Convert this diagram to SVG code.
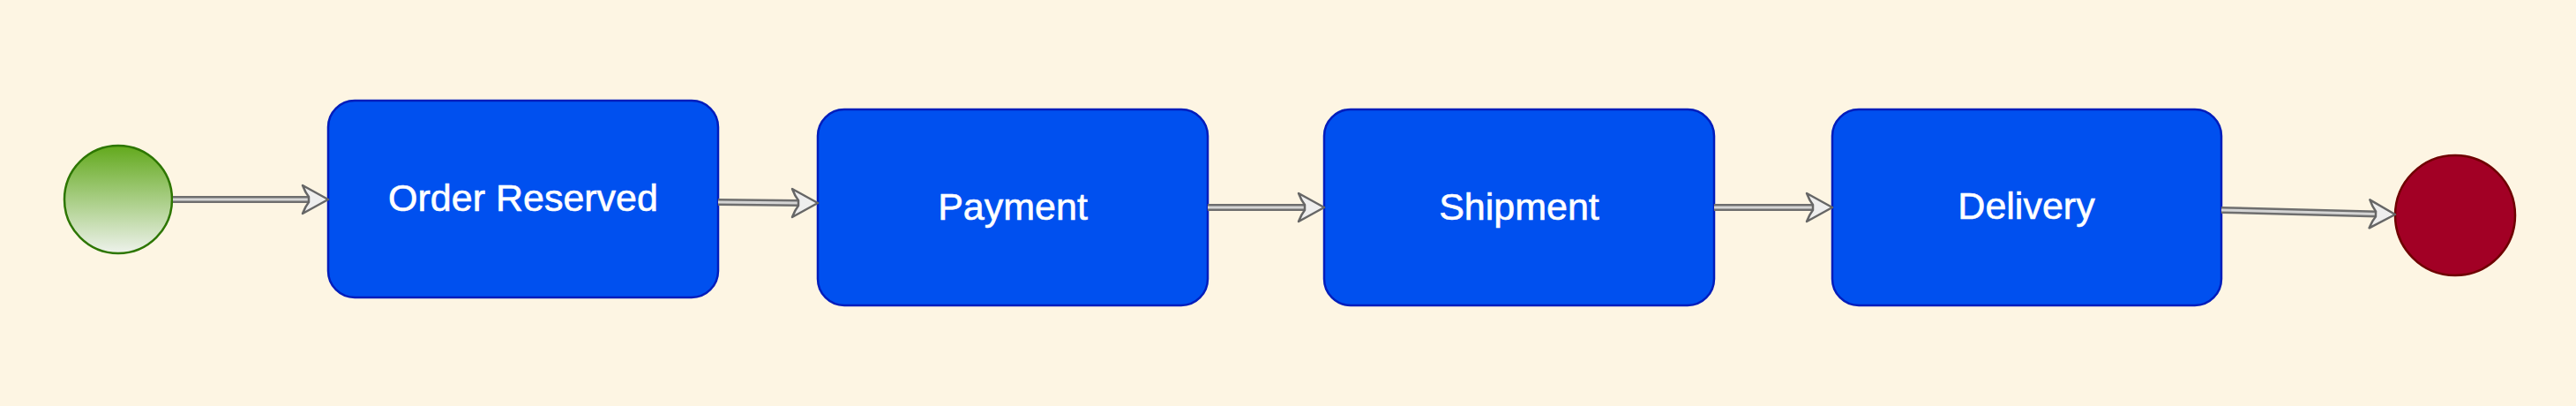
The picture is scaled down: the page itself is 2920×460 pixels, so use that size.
<svg xmlns="http://www.w3.org/2000/svg" width="2920" height="460" viewBox="0 0 2920 460">
<defs>
<linearGradient id="gStart" x1="0" y1="0" x2="0" y2="1">
<stop offset="0" stop-color="#62a91c"/>
<stop offset="1" stop-color="#eef2ec"/>
</linearGradient>
<marker id="arr" viewBox="-32 -18 34 36" refX="0" refY="0" markerWidth="34" markerHeight="36" markerUnits="userSpaceOnUse" orient="auto">
<path d="M0,0 L-29,-16 Q-26,-8 -22,-3 L-22,3 Q-26,8 -29,16 Z" fill="#eeeeee" stroke="#666666" stroke-width="2.5" stroke-linejoin="round"/>
</marker>
<style>
.node rect{fill:#0050ef;stroke:#001dbc;stroke-width:2.5}
.node text{font-family:"Liberation Sans",Arial,sans-serif;font-size:43px;fill:#ffffff;text-anchor:middle;stroke:#ffffff;stroke-width:0.6}
.pipe{fill:none;stroke:#6e6e6e;stroke-width:8}
.core{fill:none;stroke:#d4d4d4;stroke-width:3}
.tip{fill:none;stroke:none}
</style>
</defs>
<rect x="0" y="0" width="2920" height="460" fill="#fdf5e3"/>
<g id="start"><circle cx="134" cy="226" r="61" fill="url(#gStart)" stroke="#2d7600" stroke-width="2.5"/></g>
<g id="n1" class="node"><rect x="372" y="114" width="442" height="223" rx="30" ry="30"/><text x="593" y="239">Order Reserved</text></g>
<g id="n2" class="node"><rect x="927" y="124" width="442" height="222" rx="30" ry="30"/><text x="1148" y="249">Payment</text></g>
<g id="n3" class="node"><rect x="1501" y="124" width="442" height="222" rx="30" ry="30"/><text x="1722" y="249">Shipment</text></g>
<g id="n4" class="node"><rect x="2077" y="124" width="441" height="222" rx="30" ry="30"/><text x="2297" y="248">Delivery</text></g>
<g id="end"><circle cx="2783" cy="244" r="68" fill="#a20025" stroke="#6f0000" stroke-width="2.5"/></g>
<g id="connectors">
<path class="pipe" d="M196,226 L351,226"/><path class="core" d="M196,226 L351,226"/><path class="tip" d="M350,226 L372,226" marker-end="url(#arr)"/>
<path class="pipe" d="M814,229 L906,230"/><path class="core" d="M814,229 L906,230"/><path class="tip" d="M905,230 L927,230" marker-end="url(#arr)"/>
<path class="pipe" d="M1369,235 L1480,235"/><path class="core" d="M1369,235 L1480,235"/><path class="tip" d="M1479,235 L1501,235" marker-end="url(#arr)"/>
<path class="pipe" d="M1943,235 L2056,235"/><path class="core" d="M1943,235 L2056,235"/><path class="tip" d="M2055,235 L2077,235" marker-end="url(#arr)"/>
<path class="pipe" d="M2518,238 L2694,242.5"/><path class="core" d="M2518,238 L2694,242.5"/><path class="tip" d="M2693,242.5 L2715,243" marker-end="url(#arr)"/>
</g>
</svg>
